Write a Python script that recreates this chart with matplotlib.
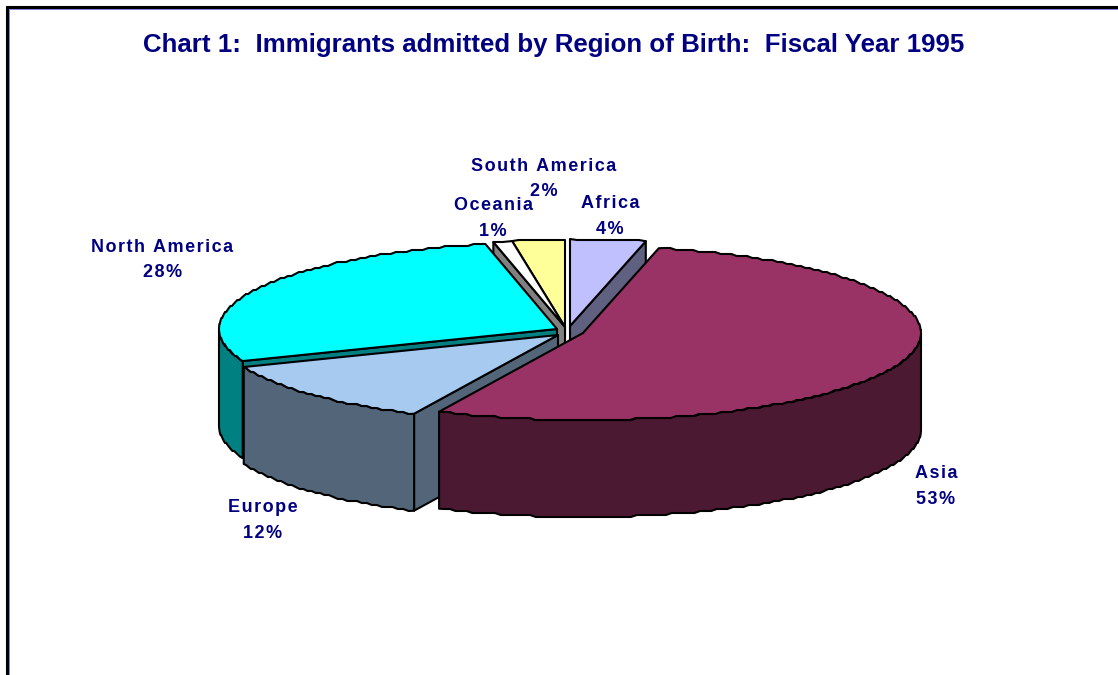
import numpy as np
import matplotlib
matplotlib.use('Agg')
import matplotlib.pyplot as plt
from matplotlib.patches import Polygon

# slices, clockwise from 12 o'clock
regions = ['Africa', 'Asia', 'Europe', 'North America', 'Oceania', 'South America']
shares = [3.6, 53.4, 12.0, 27.6, 0.9, 2.5]
top_colors = ['#C0C0FF', '#993366', '#A6CAF0', '#00FFFF', '#FFFFFF', '#FFFF99']
wall_colors = ['#606080', '#4C1933', '#536578', '#008080', '#808080', '#80804C']

# pie layout in pixels
apex_x = [570, 583, 558, 557, 565, 565]
apex_y = [326, 333, 335, 329, 327, 327]
rx, ry, depth = 338, 87, 97
draw_order = [5, 4, 0, 3, 2, 1]

label_xy = {'Africa': (610, 216.5), 'Asia': (936, 486.5), 'Europe': (262.5, 520.5),
            'North America': (162.5, 260), 'Oceania': (493, 218.5), 'South America': (544, 179)}

NAVY = '#000080'
HAIR = '\u200a'


def spaced(s):
    return HAIR.join(s)


def rim(cx, cy, a0, a1):
    a = np.radians(np.linspace(a0, a1, max(int(a1 - a0), 2)))
    pts = np.column_stack([cx + rx * np.sin(a), cy - ry * np.cos(a)])
    # the outline steps a little, like the low resolution original
    snapped = pts.copy()
    snapped[1:-1, 1] = np.round(pts[1:-1, 1] / 2) * 2
    return snapped


def poly(ax, pts, color):
    ax.add_patch(Polygon(pts, closed=True, facecolor=color, edgecolor='black',
                         linewidth=1.5, joinstyle='round'))


fig = plt.figure(figsize=(11.18, 6.75), dpi=100)
ax = fig.add_axes([0, 0, 1, 1])
ax.set_xlim(0, 1118)
ax.set_ylim(675, 0)
ax.axis('off')

# chart frame, only left and top show
ax.plot([7, 7, 1118], [675, 7, 7], color='black', lw=2.2, solid_joinstyle='miter')
ax.plot([9, 9, 1118], [675, 9, 9], color='#8080E0', lw=0.7)

ends = np.cumsum(shares) * 3.6
starts = ends - np.array(shares) * 3.6

for i in draw_order:
    cx, cy = apex_x[i], apex_y[i]
    a0, a1 = starts[i], ends[i]
    apex = np.array([cx, cy])
    # radial faces, only those turned to the viewer
    for a, normal in ((a0, a0 - 90), (a1, a1 + 90)):
        if np.cos(np.radians(normal)) < 0:
            edge = rim(cx, cy, a, a + 0.001)[0]
            poly(ax, [apex, edge, edge + [0, depth], apex + [0, depth]], wall_colors[i])
    # outer wall, front half only
    w0, w1 = max(a0, 90), min(a1, 270)
    if w1 > w0:
        arc = rim(cx, cy, w0, w1)
        poly(ax, np.vstack([arc, arc[::-1] + [0, depth]]), wall_colors[i])
    # top
    poly(ax, np.vstack([apex, rim(cx, cy, a0, a1)]), top_colors[i])

ax.text(553.5, 45, 'Chart 1:  Immigrants admitted by Region of Birth:  Fiscal Year 1995',
        ha='center', va='center', color=NAVY, fontsize=18.6, fontweight='bold',
        family=['Liberation Sans', 'DejaVu Sans'])

for name, share in zip(regions, shares):
    x, y = label_xy[name]
    ax.text(x, y, spaced(name) + '\n' + spaced(f'{round(share)}%'), ha='center', va='center',
            color=NAVY, fontsize=13, fontweight='bold', linespacing=1.62,
            family=['Liberation Sans', 'DejaVu Sans'])

fig.savefig('out.png', dpi=100)
